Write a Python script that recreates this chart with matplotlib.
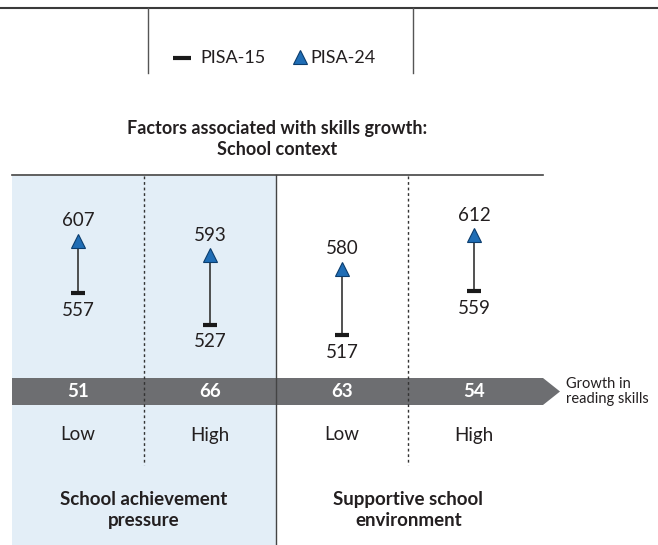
import matplotlib
matplotlib.use('Agg')
import matplotlib.pyplot as plt
from matplotlib.patches import Rectangle, Polygon
from matplotlib.transforms import blended_transform_factory

plt.rcParams['font.family'] = ['Lato', 'DejaVu Sans']

levels = ['Low', 'High', 'Low', 'High']
pisa15 = [557, 527, 517, 559]
pisa24 = [607, 593, 580, 612]
growth = [51, 66, 63, 54]
factors = ['School achievement\npressure', 'Supportive school\nenvironment']
series = ['PISA-15', 'PISA-24']

TXT = '#231f20'
BLUE = '#1f6db5'
W, H = 658, 545
fig = plt.figure(figsize=(6.58, 5.45), dpi=100)

# background axes in pixel units (y down)
bg = fig.add_axes([0, 0, 1, 1])
bg.set_xlim(0, W)
bg.set_ylim(H, 0)
bg.axis('off')

# data axes over the panel area
x0, x1, y0, y1 = 12, 543, 175, 370
ax = fig.add_axes([x0 / W, 1 - y1 / H, (x1 - x0) / W, (y1 - y0) / H])
ax.set_xlim(-0.5, 3.52)
ax.set_ylim(483.7, 669.4)
ax.axis('off')
ax.patch.set_alpha(0)

tr = blended_transform_factory(ax.transData, bg.transData)
xl = ax.get_xlim()
xs = list(range(len(levels)))

# shaded first factor
bg.add_patch(Rectangle((xl[0], 176), 2.0, H - 176, transform=tr,
                       facecolor='#e3eef7', edgecolor='none', zorder=0))

# growth arrow
bg.add_patch(Polygon([(12, 378), (543, 378), (560, 391.5), (543, 405), (12, 405)],
                     closed=True, facecolor='#6d6e71', edgecolor='none', zorder=1))

# top frame lines
bg.plot([0, W], [8, 8], color='#3a3a3a', lw=1.5, zorder=2)
for xv in (148, 413):
    bg.plot([xv, xv], [8, 73], color='#555555', lw=1, zorder=2)

# legend (drawn by hand)
bg.plot([182], [58], ls='none', marker='_', ms=13, mew=3, color='#1a1a1a')
bg.text(200, 58, series[0], ha='left', va='center', fontsize=13, color=TXT)
bg.plot([300], [57], ls='none', marker='^', ms=10, mfc=BLUE, mec='#0b3d6e', mew=0.8)
bg.text(310, 58, series[1], ha='left', va='center', fontsize=13, color=TXT)

# panel lines
bg.plot(xl, [175, 175], transform=tr, color='#444444', lw=1.2, zorder=2)
bg.plot([1.5, 1.5], [175, H], transform=tr, color='#444444', lw=1, zorder=2)
for xv in (0.5, 2.5):
    bg.plot([xv, xv], [176, 465], transform=tr, color='#333333', lw=1,
            ls=(0, (2, 2)), zorder=2)

# texts
bg.text(277, 139, 'Factors associated with skills growth:\nSchool context',
        ha='center', va='center', fontsize=13, weight='bold', color=TXT,
        linespacing=1.25)
bg.text(566, 391.5, 'Growth in\nreading skills', ha='left', va='center',
        fontsize=10.5, color=TXT, linespacing=1.0)
for i, g in zip(xs, growth):
    bg.text(i, 391.5, str(g), transform=tr, ha='center', va='center',
            fontsize=13.5, weight='bold', color='white', zorder=3)
for i, lv in zip(xs, levels):
    bg.text(i, 435, lv, transform=tr, ha='center', va='center',
            fontsize=13.5, color=TXT)
for xv, f in zip((0.5, 2.5), factors):
    bg.text(xv, 510, f, transform=tr, ha='center', va='center',
            fontsize=13.5, weight='bold', color=TXT, linespacing=1.25)

# data
ax.vlines(xs, pisa15, pisa24, color='#333333', lw=1.2, zorder=2)
ax.plot(xs, pisa15, ls='none', marker='_', ms=10, mew=3, color='#1a1a1a', zorder=3)
ax.plot(xs, pisa24, ls='none', marker='^', ms=10, mfc=BLUE,
        mec='#0b3d6e', mew=0.8, zorder=4)
for i, v in zip(xs, pisa24):
    ax.annotate(str(v), (i, v), xytext=(0, 14.5), textcoords='offset points',
                ha='center', va='center', fontsize=13.5, color=TXT)
for i, v in zip(xs, pisa15):
    ax.annotate(str(v), (i, v), xytext=(0, -12.5), textcoords='offset points',
                ha='center', va='center', fontsize=13.5, color=TXT)

fig.savefig('out.png', dpi=100)
